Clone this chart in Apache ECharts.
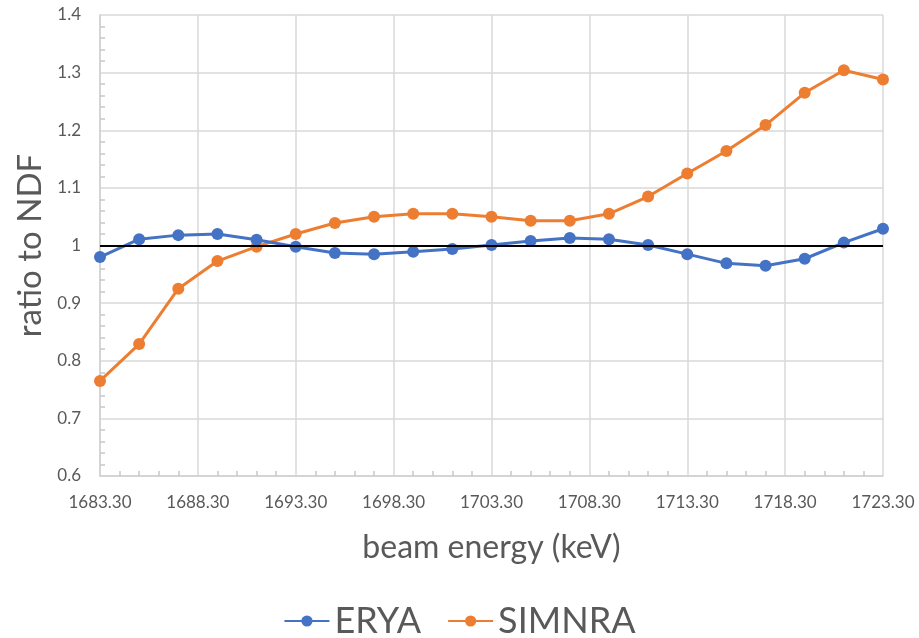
<!DOCTYPE html>
<html>
<head>
<meta charset="utf-8">
<script src="https://cdn.jsdelivr.net/npm/echarts@6/dist/echarts.min.js"></script>
<style>html,body{margin:0;padding:0;background:#fff}#c{width:919px;height:638px}</style>
</head>
<body>
<div id="c"></div>
<script>
const energies = [1683.3,1685.3,1687.3,1689.3,1691.3,1693.3,1695.3,1697.3,1699.3,1701.3,1703.3,1705.3,1707.3,1709.3,1711.3,1713.3,1715.3,1717.3,1719.3,1721.3,1723.3];
const erya = [0.980,1.011,1.018,1.020,1.010,0.998,0.987,0.985,0.989,0.994,1.001,1.008,1.013,1.011,1.001,0.985,0.969,0.965,0.977,1.005,1.029];
const simnra = [0.765,0.829,0.925,0.973,0.998,1.020,1.039,1.050,1.055,1.055,1.050,1.043,1.043,1.055,1.085,1.125,1.164,1.209,1.265,1.304,1.288];
const seriesNames = ['ERYA','SIMNRA'];
const referenceLevel = 1;

const font = 'Lato, "Open Sans", sans-serif';
const grey = '#595959';
const chart = echarts.init(document.getElementById('c'));
chart.setOption({
  animation: false,
  textStyle: {fontFamily: font},
  grid: {left: 100, right: 36, top: 15, bottom: 162},
  legend: {
    bottom: -6, left: 'center', itemWidth: 45, itemHeight: 14, itemGap: 26,
    textStyle: {fontSize: 36, color: grey, fontFamily: font},
    data: seriesNames
  },
  xAxis: {
    type: 'value', min: 1683.3, max: 1723.3, interval: 5,
    name: 'beam energy (keV)', nameLocation: 'middle', nameGap: 56,
    nameTextStyle: {fontSize: 32, color: grey, fontFamily: font},
    axisLine: {lineStyle: {color: '#d0d0d0', width: 1.5}},
    axisTick: {show: true, inside: true, length: 0},
    minorTick: {show: true, splitNumber: 5, length: 5, lineStyle: {color: '#c8c8c8', width: 1.5}},
    axisLabel: {fontSize: 17, color: grey, margin: 18, formatter: v => v.toFixed(2)},
    splitLine: {show: true, lineStyle: {color: '#d9d9d9', width: 1.5}}
  },
  yAxis: {
    type: 'value', min: 0.6, max: 1.4, interval: 0.1,
    name: 'ratio to NDF', nameLocation: 'middle', nameGap: 53,
    nameTextStyle: {fontSize: 33, color: grey, fontFamily: font},
    axisLine: {show: true, lineStyle: {color: '#d0d0d0', width: 1.5}},
    axisTick: {show: true, inside: true, length: 0},
    minorTick: {show: true, splitNumber: 5, length: 5, lineStyle: {color: '#c8c8c8', width: 1.5}},
    axisLabel: {fontSize: 17, color: grey, margin: 19},
    splitLine: {show: true, lineStyle: {color: '#d9d9d9', width: 1.5}}
  },
  series: [
    {
      name: seriesNames[0], type: 'line', data: energies.map((e,i)=>[e, erya[i]]),
      color: '#4472C4', symbol: 'circle', symbolSize: 12,
      lineStyle: {width: 3},
      markLine: {
        silent: true, symbol: ['none','none'], label: {show: false},
        lineStyle: {color: '#000', width: 2, type: 'solid'},
        data: [{yAxis: referenceLevel}]
      },
      z: 3
    },
    {
      name: seriesNames[1], type: 'line', data: energies.map((e,i)=>[e, simnra[i]]),
      color: '#ED7D31', symbol: 'circle', symbolSize: 12,
      lineStyle: {width: 3}, z: 2
    }
  ]
});
</script>
</body>
</html>
